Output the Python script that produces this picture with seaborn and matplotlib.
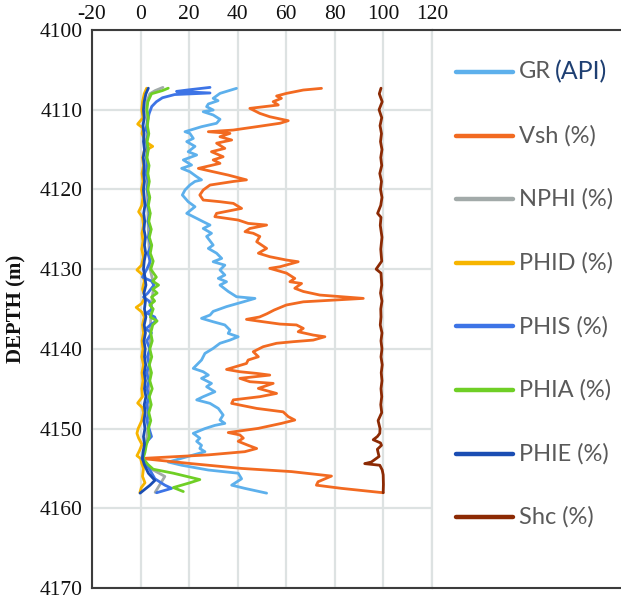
import matplotlib
matplotlib.use("Agg")
import matplotlib.pyplot as plt
from matplotlib.lines import Line2D
import seaborn as sns
import pandas as pd

# ---------------- data (depth offsets from 4100 m, values) ----------------
gr_depth = [7.32, 7.95, 8.57, 8.87, 9.28, 9.62, 10.04, 10.25, 10.66, 11.2, 11.7, 12.13, 12.76, 12.97,
            13.6, 14.0, 14.6, 15.27, 15.68, 16.3, 16.94, 17.36, 17.78, 18.4, 18.8, 19.0, 19.45, 20.07,
            20.7, 21.54, 22.17, 23.0, 23.63, 24.05, 24.47, 24.9, 25.5, 25.9, 26.98, 27.4, 28.0, 28.65,
            29.07, 29.5, 30.1, 30.74, 31.16, 31.58, 32.0, 32.8, 33.46, 33.67, 34.1, 34.7, 35.3, 35.76,
            36.17, 36.6, 37.0, 37.64, 38.06, 38.48, 38.9, 39.3, 39.94, 40.57, 41.4, 42.45, 42.87, 43.29,
            43.7, 44.33, 44.75, 45.38, 46.0, 46.4, 46.84, 47.47, 48.3, 48.93, 49.35, 49.6, 50.0, 50.6,
            51.2, 51.6, 52.1, 52.5, 52.9, 54.2, 54.6, 55.2, 55.6, 56.3, 57.1, 57.5, 58.1]
gr_vals = [39.5, 32.7, 29.9, 31.9, 27.9, 27.2, 29.9, 25.8, 29.9, 32.7, 31.3, 25.1, 18.3, 20.3,
           21.7, 19.0, 22.4, 19.6, 23.1, 17.6, 21.0, 16.9, 20.3, 23.1, 25.1, 22.4, 20.3, 18.3,
           17.2, 19.6, 22.4, 19.0, 23.1, 25.8, 28.6, 25.8, 29.2, 27.2, 29.9, 27.9, 31.3, 33.4,
           29.9, 34.7, 32.7, 34.7, 32.0, 35.4, 32.7, 36.1, 39.5, 47.1, 42.3, 35.4, 29.9, 28.6,
           25.1, 29.9, 34.7, 36.8, 36.1, 40.2, 36.8, 32.7, 29.9, 26.5, 25.1, 21.7, 25.8, 27.9,
           25.1, 29.2, 27.2, 30.6, 25.8, 23.1, 28.6, 32.0, 34.0, 32.7, 34.7, 30.6, 26.5, 21.7,
           24.4, 23.1, 25.1, 24.4, 26.5, 11.4, 16.9, 27.9, 40.2, 41.6, 37.5, 42.9, 51.9]

vsh_depth = [7.32, 7.53, 7.95, 8.28, 8.57, 8.99, 9.41, 9.83, 10.46, 10.88, 11.38, 11.7, 12.13, 12.55,
             12.76, 12.97, 13.39, 13.8, 14.2, 14.85, 15.27, 15.9, 16.3, 16.73, 17.36, 17.78, 18.2, 18.8,
             19.0, 19.45, 20.07, 20.7, 21.33, 21.54, 21.75, 22.38, 23.0, 23.42, 23.84, 24.26, 24.47,
             24.9, 25.3, 25.5, 25.9, 26.56, 27.4, 28.0, 28.44, 28.86, 29.07, 29.7, 29.9, 30.5, 31.16,
             31.58, 31.8, 32.4, 32.8, 33.25, 33.67, 34.1, 34.5, 35.13, 35.6, 36.0, 36.3, 36.6, 36.89,
             37.0, 37.43, 37.85, 38.27, 38.48, 38.9, 39.1, 39.3, 39.73, 40.36, 40.99, 41.4, 41.83,
             42.58, 42.87, 43.08, 43.29, 43.7, 44.12, 44.33, 44.96, 45.59, 46.0, 46.4, 46.84, 47.47,
             47.9, 48.5, 48.93, 49.35, 49.98, 50.5, 50.8, 51.2, 51.6, 52.1, 52.5, 52.9, 53.3, 53.75,
             54.4, 55.0, 55.4, 55.96, 56.67, 57.1, 57.5, 58.05]
vsh_vals = [74.5, 67.0, 60.1, 56.0, 58.0, 54.6, 56.7, 45.0, 49.1, 53.2, 60.8, 57.4, 47.8, 38.2,
            27.9, 36.8, 32.7, 37.5, 31.3, 34.7, 29.2, 34.0, 29.9, 32.7, 23.8, 29.9, 36.1, 43.6,
            38.2, 28.6, 25.8, 24.4, 25.8, 32.7, 38.2, 41.6, 31.3, 30.6, 40.2, 44.3, 51.9,
            45.0, 43.0, 46.4, 49.1, 47.8, 51.9, 48.5, 53.2, 60.1, 64.9, 57.4, 53.2, 60.1, 63.5,
            61.5, 66.3, 63.5, 67.0, 73.8, 91.7, 67.0, 60.0, 55.0, 52.0, 49.0, 43.6, 50.5, 57.4,
            64.2, 67.0, 64.9, 71.1, 75.9, 71.1, 62.9, 56.0, 50.5, 46.4, 48.5, 44.3, 43.6,
            35.4, 40.9, 47.8, 53.2, 40.9, 45.0, 54.6, 48.5, 56.0, 49.1, 38.2, 37.5, 47.8,
            58.7, 60.8, 63.5, 58.0, 48.4, 36.1, 40.9, 42.3, 40.2, 44.3, 47.8, 42.9, 27.9, 0.4,
            21.0, 41.6, 62.2, 78.6, 73.1, 72.4, 82.7, 99.9]

nphi_depth = [7.2, 7.6, 8.0, 9.0, 10.0, 12.0, 14.0, 16.0, 18.0, 20.0, 22.0, 24.0, 26.0, 28.0, 30.0,
              32.0, 34.0, 36.0, 38.0, 40.0, 42.0, 44.0, 46.0, 48.0, 50.0, 52.0, 53.75, 55.0, 56.0,
              57.0, 58.0]
nphi_vals = [9.2, 6.0, 3.8, 2.6, 2.4, 2.8, 2.5, 2.6, 2.8, 2.7, 3.0, 3.1, 3.3, 3.6, 3.9,
             5.5, 4.6, 4.2, 4.0, 3.6, 3.5, 3.4, 3.3, 3.2, 3.0, 2.2, 1.0, 4.0, 10.0,
             8.0, 6.0]

phid_depth = [7.3, 8.0, 9.0, 10.0, 11.0, 11.8, 12.3, 13.0, 14.0, 14.6, 15.2, 16.0, 17.0, 18.0, 19.0,
              20.0, 21.0, 22.0, 22.8, 23.5, 24.5, 25.5, 26.5, 27.5, 28.5, 29.5, 30.1, 30.7, 31.5,
              32.5, 33.5, 34.3, 34.8, 35.4, 36.0, 37.0, 38.0, 39.0, 40.0, 41.0, 42.0, 43.0, 44.0,
              45.0, 46.0, 46.8, 47.4, 48.0, 49.0, 50.0, 50.6, 51.2, 52.0, 52.8, 53.4, 53.75, 54.4,
              55.0, 56.0, 56.8, 57.4, 58.05]
phid_vals = [2.5, 1.5, 0.8, 0.5, 1.0, -1.2, 1.0, 0.6, 2.0, 5.0, 1.5, 0.8, 1.2, 0.6, 1.0,
             0.4, 1.0, 0.5, -0.8, 0.8, 1.2, 0.6, 1.0, 0.5, 1.2, 0.4, -1.5, 0.8, 1.5,
             0.8, 1.8, 0.5, -1.8, 0.6, 1.5, 0.8, 1.2, 0.6, 1.0, 0.5, 1.2, 0.6, 1.0,
             0.5, 0.8, -1.2, 0.8, 1.2, 0.5, -1.0, -1.5, -0.8, 0.6, -0.5, -1.5, 0.0, 0.5,
             1.2, 0.8, 1.8, 0.3, -0.3]

phis_depth = [7.2, 7.5, 7.7, 7.9, 8.1, 8.5, 9.0, 9.6, 10.5, 11.5, 12.5, 13.0, 14.0, 15.0, 16.0,
              17.0, 18.0, 19.0, 20.0, 21.0, 22.0, 23.0, 24.0, 25.0, 26.0, 27.0, 28.0, 29.0, 30.0,
              31.0, 31.5, 32.0, 33.0, 33.5, 34.0, 35.0, 35.5, 36.0, 36.5, 37.0, 37.5, 38.0, 39.0,
              40.0, 41.0, 42.0, 43.0, 44.0, 45.0, 46.0, 47.0, 48.0, 49.0, 50.0, 51.0, 51.5, 52.0,
              53.0, 53.75, 55.0, 56.3, 57.1, 57.5, 58.05]
phis_vals = [28.6, 20.0, 14.8, 28.6, 14.0, 9.0, 6.5, 4.6, 3.5, 2.8, 2.2, 3.2, 2.4, 3.0, 2.4,
             2.8, 2.2, 3.2, 2.6, 3.6, 2.8, 3.8, 3.0, 4.2, 3.2, 4.4, 3.0, 4.0, 2.6,
             0.8, 4.5, 5.5, 3.0, 1.2, 3.5, 4.8, 2.5, 5.8, 6.5, 4.0, 2.2, 4.5, 2.5,
             3.8, 2.8, 3.6, 2.4, 3.5, 2.6, 3.6, 2.5, 3.2, 2.6, 3.5, 4.5, 3.0, 2.0,
             1.5, 0.5, 3.5, 5.9, 10.0, 12.8, 6.6]

phia_depth = [7.3, 7.6, 8.0, 9.0, 10.0, 11.0, 12.0, 13.0, 14.0, 15.0, 16.0, 17.0, 18.0, 19.0, 20.0,
              21.0, 22.0, 23.0, 24.0, 25.0, 26.0, 27.0, 28.0, 29.0, 30.0, 31.0, 31.5, 32.0, 32.5,
              33.0, 33.5, 34.0, 34.5, 35.0, 36.0, 36.5, 37.0, 38.0, 39.0, 40.0, 41.0, 42.0, 43.0,
              44.0, 45.0, 46.0, 47.0, 48.0, 49.0, 50.0, 51.0, 52.0, 53.0, 53.75, 54.5, 55.1, 55.6,
              56.4, 56.8, 57.4, 57.9]
phia_vals = [11.4, 9.0, 4.5, 3.0, 2.6, 3.2, 2.8, 3.4, 2.7, 3.2, 2.6, 3.5, 3.0, 3.6, 3.0,
             3.8, 3.2, 4.0, 3.4, 4.4, 3.6, 4.6, 4.0, 5.2, 4.2, 6.5, 5.0, 7.4, 5.0,
             6.8, 4.5, 5.8, 3.8, 5.2, 4.0, 6.8, 5.0, 4.2, 4.8, 3.8, 4.6, 3.6, 4.5,
             3.8, 4.8, 3.6, 4.4, 3.4, 4.2, 3.2, 3.6, 2.4, 1.8, 1.0, 3.0, 5.2, 13.5,
             24.4, 20.3, 13.5, 17.6]

phie_depth = [7.3, 8.0, 9.0, 10.0, 11.0, 12.0, 13.0, 14.0, 15.0, 16.0, 17.0, 18.0, 19.0, 20.0, 21.0,
              22.0, 23.0, 24.0, 25.0, 26.0, 27.0, 28.0, 29.0, 30.0, 31.0, 32.0, 33.0, 34.0, 35.0,
              36.0, 37.0, 38.0, 39.0, 40.0, 41.0, 42.0, 43.0, 44.0, 45.0, 46.0, 47.0, 48.0, 49.0,
              50.0, 51.0, 52.0, 53.0, 53.75, 54.5, 55.6, 56.5, 57.1, 58.1]
phie_vals = [3.2, 2.2, 1.5, 1.2, 1.5, 1.0, 1.4, 1.2, 1.6, 1.1, 1.5, 1.3, 1.6, 1.2, 1.5,
             1.8, 1.3, 1.7, 1.4, 2.0, 1.6, 2.1, 1.5, 1.2, 1.8, 2.2, 1.4, 2.0, 1.6,
             2.2, 1.5, 2.0, 1.4, 1.9, 1.6, 2.1, 1.5, 2.0, 1.6, 2.2, 1.5, 1.9, 1.4,
             1.8, 1.2, 1.6, 1.0, 0.8, 1.5, 3.2, 5.9, 3.9, -0.2]

shc_depth = [7.3, 8.0, 9.0, 10.0, 11.0, 12.0, 13.0, 14.0, 15.0, 16.0, 17.0, 18.0, 19.0, 20.0, 21.0,
             22.0, 23.0, 23.5, 24.5, 26.0, 27.5, 29.0, 30.0, 30.5, 32.0, 33.0, 34.0, 35.0, 36.0,
             37.0, 38.0, 39.0, 40.0, 41.0, 42.0, 43.0, 44.0, 45.0, 46.0, 47.0, 48.0, 49.0, 50.0,
             50.6, 51.0, 51.4, 51.8, 52.1, 52.6, 53.0, 53.5, 54.2, 54.4, 54.6, 55.2, 55.8, 57.0,
             58.05]
shc_vals = [99.0, 98.3, 99.5, 98.2, 99.3, 98.6, 99.2, 98.8, 99.4, 98.9, 99.3, 98.5, 99.2, 98.8, 99.4,
            98.9, 97.6, 99.0, 98.7, 99.4, 98.9, 99.3, 97.0, 99.0, 99.3, 98.8, 99.4, 98.9, 99.0,
            98.7, 99.4, 99.0, 99.4, 99.0, 99.5, 99.1, 99.4, 99.0, 99.3, 98.9, 99.3, 97.8, 98.6,
            98.5, 97.5, 95.8, 98.8, 99.2, 97.5, 97.8, 98.2, 95.0, 92.3, 98.5, 99.5, 99.9, 100.0,
            99.9]

top_depth = 4100
labels = ["GR", "Vsh (%)", "NPHI (%)", "PHID (%)", "PHIS (%)", "PHIA (%)", "PHIE (%)", "Shc (%)"]
colors = ["#5db0ec", "#f26a21", "#a2aaa9", "#f7b500", "#3d74e6", "#6fcf25", "#1a4db3", "#8c2a04"]
series = [(gr_depth, gr_vals), (vsh_depth, vsh_vals), (nphi_depth, nphi_vals),
          (phid_depth, phid_vals), (phis_depth, phis_vals), (phia_depth, phia_vals),
          (phie_depth, phie_vals), (shc_depth, shc_vals)]
xticks = [-20, 0, 20, 40, 60, 80, 100, 120]
yticks = [4100, 4110, 4120, 4130, 4140, 4150, 4160, 4170]

# ---------------- figure ----------------
sns.set_style("white")
plt.rcParams["axes.unicode_minus"] = False
W, H = 621, 600
fig = plt.figure(figsize=(W / 100, H / 100), dpi=100)
ax = fig.add_axes([92 / W, 12 / H, 340 / W, 558 / H])

gridc = "#dde2e2"
for (d, v), c, lab in zip(series, colors, labels):
    df = pd.DataFrame({"depth": [top_depth + x for x in d], "value": v})
    sns.lineplot(data=df, x="value", y="depth", sort=False, estimator=None,
                 color=c, lw=2.0, ax=ax, legend=False, zorder=3)

ax.set_xlim(-20, 120)
ax.set_ylim(4170, 4100)
ax.set_xticks(xticks)
ax.set_yticks(yticks)
ax.xaxis.tick_top()
ax.set_xlabel("")
ax.set_ylabel("DEPTH (m)", fontfamily="Liberation Serif", fontweight="bold",
              fontsize=15, color="#111111", labelpad=9)
ax.tick_params(axis="both", length=0, labelsize=15.5, colors="#111111")
ax.tick_params(axis="x", pad=4)
ax.tick_params(axis="y", pad=7)
for t in ax.get_xticklabels() + ax.get_yticklabels():
    t.set_fontfamily("Liberation Serif")
ax.grid(True, color=gridc, lw=1.6, zorder=0)
ax.set_axisbelow(True)
for s in ["left", "top", "bottom"]:
    ax.spines[s].set_color("#3c3c3c")
    ax.spines[s].set_linewidth(1.5)
ax.spines["right"].set_color(gridc)
ax.spines["right"].set_linewidth(1.6)

# outer frame continuing to the right
y_top = 1 - 30 / H
y_bot = 12 / H
for yy in (y_top, y_bot):
    fig.add_artist(Line2D([432 / W, 1.0], [yy, yy], color="#3c3c3c", lw=1.5))

# legend
fig.canvas.draw()
renderer = fig.canvas.get_renderer()
for i, (lab, c) in enumerate(zip(labels, colors)):
    ypx = 72 + i * 63.6
    yf = 1 - ypx / H
    fig.add_artist(Line2D([456 / W, 513 / W], [yf, yf], color=c, lw=3.2,
                          solid_capstyle="round"))
    t = fig.text(519 / W, yf, lab, va="center", ha="left", fontsize=17,
                 color="#5a5a5a", family="Lato")
    if i == 0:
        bb = t.get_window_extent(renderer)
        fig.text((bb.x1 + 4) / W, yf, "(API)", va="center", ha="left", fontsize=18,
                 color="#1e3f72", family="Lato")

fig.savefig("out.png", dpi=100)
